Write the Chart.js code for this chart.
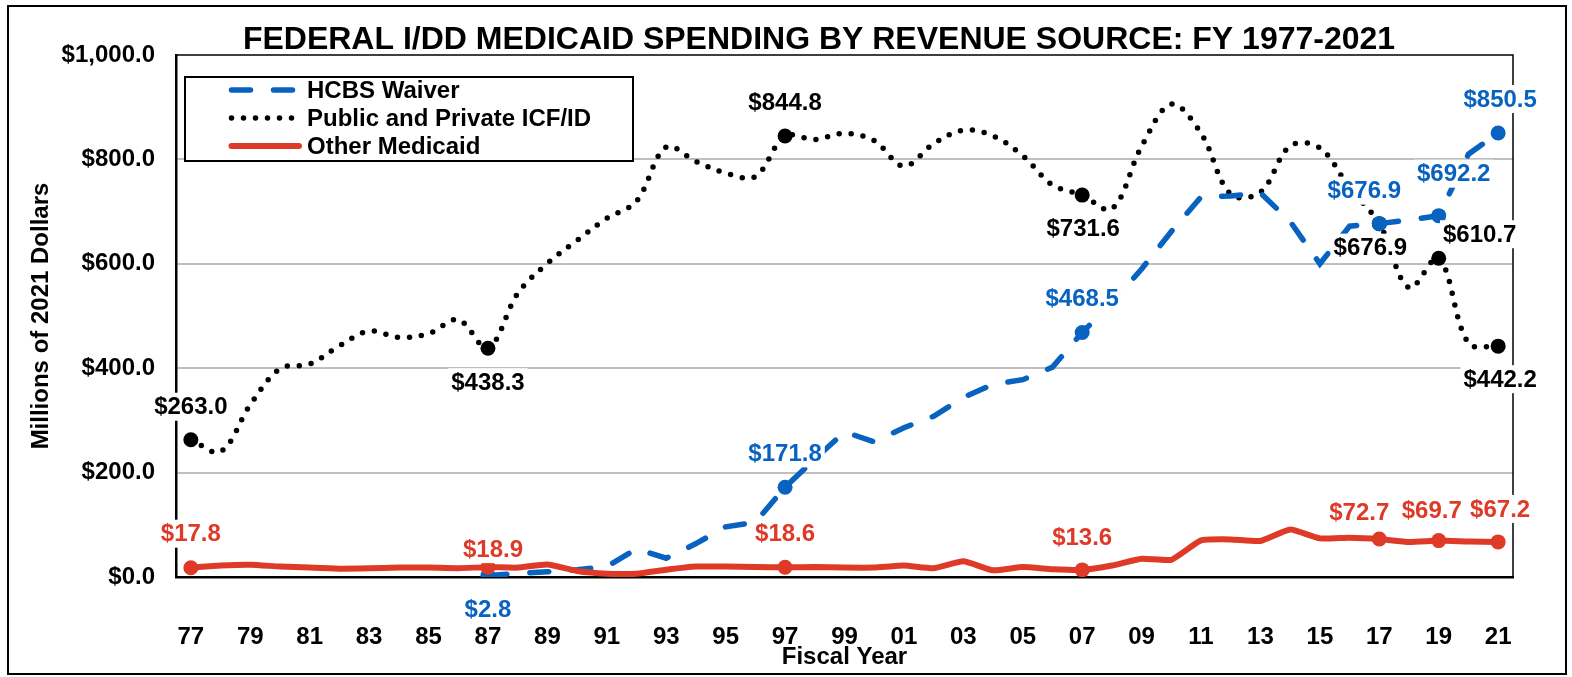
<!DOCTYPE html>
<html>
<head>
<meta charset="utf-8">
<title>Federal I/DD Medicaid Spending by Revenue Source</title>
<script src="https://cdn.jsdelivr.net/npm/chart.js@4.4.1/dist/chart.umd.min.js"></script>
<style>
  html, body { margin: 0; padding: 0; background: #fff; }
  #wrap { width: 1572px; height: 677px; }
</style>
</head>
<body>
<div id="wrap"><canvas id="spendingChart" width="1572" height="677"></canvas></div>
<script>
// fiscal years 1977 - 2021 (two digit, as on the axis)
const years = ['77','78','79','80','81','82','83','84','85','86',
               '87','88','89','90','91','92','93','94','95','96',
               '97','98','99','00','01','02','03','04','05','06',
               '07','08','09','10','11','12','13','14','15','16',
               '17','18','19','20','21'];

// millions of 2021 dollars
const hcbsWaiver = [null, null, null, null, null, null, null, null, null, null,
                    2.8, 7, 10, 14, 20, 54, 36, 64, 96, 105,
                    171.8, 226, 278, 259, 286, 308, 344, 369, 378, 402,
                    468.5, 525, 590, 662, 728, 730, 736, 681, 600, 672,
                    676.9, 684, 692.2, 810, 850.5];
const icfId = [263.0, 240, 330, 399, 408, 443, 471, 459, 466, 493,
               438.3, 543, 601, 645, 687, 720, 824, 796, 774, 767,
               844.8, 838, 850, 836, 787, 830, 856, 845, 807, 751,
               731.6, 705, 825, 906, 850, 733, 737, 826, 822, 745,
               676.9, 554, 610.7, 448, 442.2];
const otherMedicaid = [17.8, 22, 23.6, 20, 18, 16, 16.6, 18, 18, 17,
                       18.9, 18, 24, 11.5, 6.4, 6.4, 14, 20, 20, 19,
                       18.6, 19, 18, 18, 22, 17, 30, 12.8, 19, 15,
                       13.6, 22, 35, 33, 70, 72, 69, 91, 74, 75.4,
                       72.7, 67, 69.7, 68, 67.2];

const yTicks = [0, 200, 400, 600, 800, 1000];

// where the value labels sit relative to their point [dx, dy]
const hcbsLabelPos  = { '87': [0, 34], '97': [0, -34], '07': [0, -34], '17': [-15, -33], '19': [15, -42], '21': [2, -34] };
const icfLabelPos   = { '77': [0, -33], '87': [0, 34], '97': [0, -34], '07': [1, 33], '17': [-9, 24], '19': [41, -24], '21': [2, 33] };
const otherLabelPos = { '77': [0, -34], '87': [5, -18], '97': [0, -34], '07': [0, -33], '17': [-20, -27], '19': [-7, -30], '21': [2, -33] };

const BLUE = '#0862C0';
const RED = '#DE3A27';
const FONT = "'Liberation Sans', Arial, sans-serif";

Chart.defaults.font.family = FONT;
Chart.defaults.font.weight = 'bold';
Chart.defaults.color = '#000';

function markerRadius(pos) {
    return ctx => pos[years[ctx.dataIndex]] ? 7.5 : 0;
}

// white page, frame, title, plot box, value labels and legend
const decorations = {
    id: 'decorations',
    beforeDraw(chart) {
        const ctx = chart.ctx;
        ctx.save();
        ctx.fillStyle = '#fff';
        ctx.fillRect(0, 0, chart.width, chart.height);
        ctx.restore();
    },
    beforeDatasetsDraw(chart) {
        const {ctx, chartArea: a} = chart;
        ctx.save();
        ctx.strokeStyle = '#000';
        ctx.lineWidth = 1.5;
        ctx.beginPath();
        ctx.moveTo(a.left, a.top);
        ctx.lineTo(a.right, a.top);
        ctx.lineTo(a.right, a.bottom);
        ctx.stroke();
        ctx.restore();
    },
    afterDatasetsDraw(chart) {
        const ctx = chart.ctx;
        ctx.save();
        ctx.font = 'bold 24px ' + FONT;
        ctx.textAlign = 'center';
        ctx.textBaseline = 'middle';
        chart.data.datasets.forEach((ds, i) => {
            const meta = chart.getDatasetMeta(i);
            years.forEach((yr, j) => {
                const off = ds.labelPos[yr];
                if (!off || ds.data[j] == null) return;
                const pt = meta.data[j];
                const text = '$' + ds.data[j].toFixed(1);
                const w = ctx.measureText(text).width;
                const x = pt.x + off[0], y = pt.y + off[1];
                ctx.fillStyle = '#fff';
                ctx.fillRect(x - w / 2 - 3, y - 14, w + 6, 28);
                ctx.fillStyle = ds.labelColor;
                ctx.fillText(text, x, y + 1);
            });
        });
        ctx.restore();
    },
    afterDraw(chart) {
        const ctx = chart.ctx;
        ctx.save();
        // outer frame
        ctx.strokeStyle = '#000';
        ctx.lineWidth = 2;
        ctx.strokeRect(8, 6, 1558, 668);

        // title
        ctx.fillStyle = '#000';
        ctx.font = 'bold 32px ' + FONT;
        ctx.textAlign = 'center';
        ctx.textBaseline = 'middle';
        ctx.fillText('FEDERAL I/DD MEDICAID SPENDING BY REVENUE SOURCE: FY 1977-2021', 819, 40);

        // legend
        ctx.fillStyle = '#fff';
        ctx.fillRect(185, 77, 448, 84);
        ctx.lineWidth = 2;
        ctx.strokeRect(185, 77, 448, 84);
        ctx.font = 'bold 24px ' + FONT;
        ctx.textAlign = 'left';
        chart.data.datasets.forEach((ds, i) => {
            const y = 90 + i * 28;
            ctx.save();
            ctx.strokeStyle = ds.borderColor;
            ctx.lineWidth = ds.borderWidth;
            ctx.lineCap = 'round';
            ctx.setLineDash(ds.borderDash || []);
            ctx.beginPath();
            ctx.moveTo(231.5, y);
            ctx.lineTo(ds.borderDash ? 294 : 299, y);
            ctx.stroke();
            ctx.restore();
            ctx.fillStyle = '#000';
            ctx.fillText(ds.label, 307, y + 1);
        });
        ctx.restore();
    }
};

const config = {
    type: 'line',
    data: {
        labels: years,
        datasets: [{
            label: 'HCBS Waiver',
            data: hcbsWaiver,
            borderColor: BLUE,
            backgroundColor: BLUE,
            borderWidth: 5.5,
            borderDash: [19, 23],
            borderCapStyle: 'round',
            tension: 0,
            pointRadius: markerRadius(hcbsLabelPos),
            pointBackgroundColor: BLUE,
            pointBorderWidth: 0,
            labelPos: hcbsLabelPos,
            labelColor: BLUE,
            order: 1
        }, {
            label: 'Public and Private ICF/ID',
            data: icfId,
            borderColor: '#000',
            backgroundColor: '#000',
            borderWidth: 5.5,
            borderDash: [0, 12],
            borderCapStyle: 'round',
            tension: 0.35,
            pointRadius: markerRadius(icfLabelPos),
            pointBackgroundColor: '#000',
            pointBorderWidth: 0,
            labelPos: icfLabelPos,
            labelColor: '#000',
            order: 2
        }, {
            label: 'Other Medicaid',
            data: otherMedicaid,
            borderColor: RED,
            backgroundColor: RED,
            borderWidth: 6,
            tension: 0.15,
            pointRadius: markerRadius(otherLabelPos),
            pointBackgroundColor: RED,
            pointBorderWidth: 0,
            labelPos: otherLabelPos,
            labelColor: RED,
            order: 0
        }]
    },
    options: {
        responsive: false,
        animation: false,
        events: [],
        layout: { padding: { top: 55, right: 59, left: 0, bottom: 0 } },
        plugins: {
            legend: { display: false },
            title: { display: false },
            tooltip: { enabled: false }
        },
        scales: {
            x: {
                offset: true,
                afterFit(scale) { scale.height = 100; },
                border: { display: true, color: '#000', width: 2.5 },
                grid: { display: false, drawTicks: false },
                ticks: {
                    autoSkip: false,
                    maxRotation: 0,
                    padding: 46,
                    color: '#000',
                    font: { size: 24, weight: 'bold' },
                    callback: (v, i) => i % 2 === 0 ? years[i] : ''
                },
                title: {
                    display: true,
                    text: 'Fiscal Year',
                    color: '#000',
                    font: { size: 24, weight: 'bold' },
                    padding: { top: 0, bottom: 5 }
                }
            },
            y: {
                min: 0,
                max: 1000,
                afterFit(scale) { scale.width = 176; },
                afterBuildTicks(scale) { scale.ticks = yTicks.map(v => ({ value: v })); },
                border: { display: true, color: '#000', width: 2.5 },
                grid: {
                    color: c => (c.tick.value === 0 || c.tick.value === 1000) ? 'rgba(0,0,0,0)' : '#BFBFBF',
                    lineWidth: 2,
                    drawTicks: false
                },
                ticks: {
                    padding: 21,
                    color: '#000',
                    font: { size: 24, weight: 'bold' },
                    callback: v => '$' + v.toLocaleString('en-US', { minimumFractionDigits: 1, maximumFractionDigits: 1 })
                },
                title: {
                    display: true,
                    text: 'Millions of 2021 Dollars',
                    color: '#000',
                    font: { size: 24, weight: 'bold' },
                    padding: { top: 27, bottom: 0 }
                }
            }
        }
    },
    plugins: [decorations]
};

const ctx = document.getElementById('spendingChart').getContext('2d');
new Chart(ctx, config);
</script>
</body>
</html>
